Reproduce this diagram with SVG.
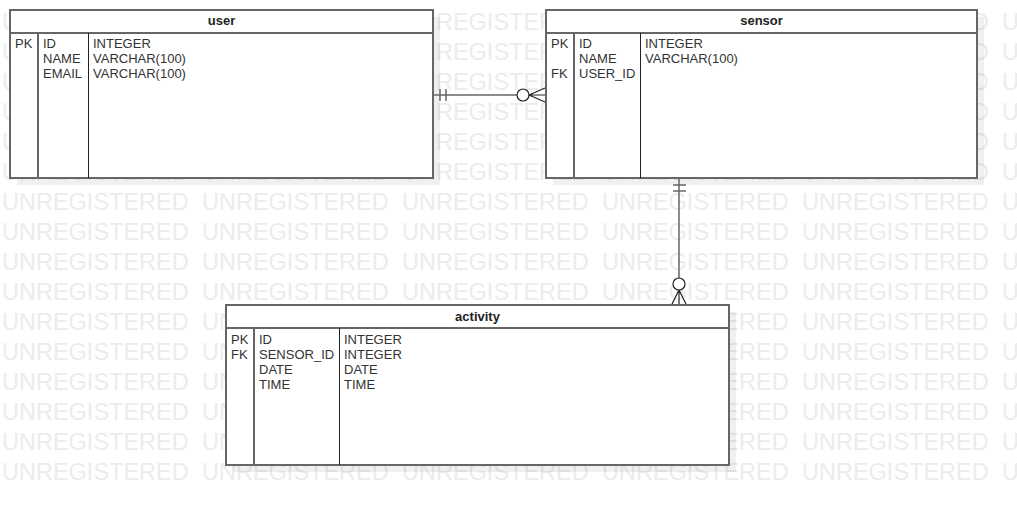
<svg xmlns="http://www.w3.org/2000/svg" xmlns:xlink="http://www.w3.org/1999/xlink" width="1017" height="506" viewBox="0 0 1017 506">
<style>
.wm{font-family:"Liberation Sans",Arial,sans-serif;font-size:23.5px;fill:#ececec}
.t{font-family:"Liberation Sans",Arial,sans-serif;font-size:13px;fill:#333}
.h{font-family:"Liberation Sans",Arial,sans-serif;font-size:13px;font-weight:bold;fill:#222;text-anchor:middle}
.box{fill:#fff;stroke:#666;stroke-width:2}
.shadow{fill:#000;fill-opacity:0.06}
.sep{stroke:#666;stroke-width:2}
.sep2{stroke:#222;stroke-width:1}
.c{fill:none;stroke:#666;stroke-width:1.5}
.ci{fill:#fff;stroke:#222;stroke-width:1.2}
.cf{fill:none;stroke:#222;stroke-width:1.2}
</style>
<defs>
<text id="wmrow" class="wm"><tspan x="2">UNREGISTERED</tspan><tspan x="202">UNREGISTERED</tspan><tspan x="402">UNREGISTERED</tspan><tspan x="602">UNREGISTERED</tspan><tspan x="802">UNREGISTERED</tspan><tspan x="1002">U</tspan></text>
</defs>
<rect width="1017" height="506" fill="#fff"/>
<g id="watermark">
<use xlink:href="#wmrow" y="30"/><use xlink:href="#wmrow" y="60"/><use xlink:href="#wmrow" y="90"/><use xlink:href="#wmrow" y="120"/>
<use xlink:href="#wmrow" y="150"/><use xlink:href="#wmrow" y="180"/><use xlink:href="#wmrow" y="210"/><use xlink:href="#wmrow" y="240"/>
<use xlink:href="#wmrow" y="270"/><use xlink:href="#wmrow" y="300"/><use xlink:href="#wmrow" y="330"/><use xlink:href="#wmrow" y="360"/>
<use xlink:href="#wmrow" y="390"/><use xlink:href="#wmrow" y="420"/><use xlink:href="#wmrow" y="450"/><use xlink:href="#wmrow" y="480"/>
</g>
<g id="user">
<rect class="shadow" x="17" y="17" width="423" height="168"/>
<rect class="box" x="10" y="10" width="423" height="168"/>
<line class="sep" x1="10" y1="33" x2="433" y2="33"/>
<line class="sep" x1="38" y1="33" x2="38" y2="178"/>
<line class="sep2" x1="88.5" y1="33" x2="88.5" y2="178"/>
<text class="h" x="221.5" y="25">user</text>
<text class="t" x="15" y="48">PK</text>
<text class="t" x="43" y="48">ID</text>
<text class="t" x="43" y="63">NAME</text>
<text class="t" x="43" y="78">EMAIL</text>
<text class="t" x="93" y="48">INTEGER</text>
<text class="t" x="93" y="63">VARCHAR(100)</text>
<text class="t" x="93" y="78">VARCHAR(100)</text>
</g>
<g id="sensor">
<rect class="shadow" x="553" y="17" width="431" height="168"/>
<rect class="box" x="546" y="10" width="431" height="168"/>
<line class="sep" x1="546" y1="33" x2="977" y2="33"/>
<line class="sep" x1="574" y1="33" x2="574" y2="178"/>
<line class="sep2" x1="640.5" y1="33" x2="640.5" y2="178"/>
<text class="h" x="761.5" y="25">sensor</text>
<text class="t" x="551" y="48">PK</text>
<text class="t" x="551" y="78">FK</text>
<text class="t" x="579" y="48">ID</text>
<text class="t" x="579" y="63">NAME</text>
<text class="t" x="579" y="78">USER_ID</text>
<text class="t" x="645" y="48">INTEGER</text>
<text class="t" x="645" y="63">VARCHAR(100)</text>
</g>
<g id="activity">
<rect class="shadow" x="233" y="312" width="503" height="160"/>
<rect class="box" x="226" y="305" width="503" height="160"/>
<line class="sep" x1="226" y1="328" x2="729" y2="328"/>
<line class="sep" x1="254" y1="328" x2="254" y2="465"/>
<line class="sep2" x1="339.5" y1="328" x2="339.5" y2="465"/>
<text class="h" x="477.5" y="321">activity</text>
<text class="t" x="231" y="344">PK</text>
<text class="t" x="231" y="359">FK</text>
<text class="t" x="259" y="344">ID</text>
<text class="t" x="259" y="359">SENSOR_ID</text>
<text class="t" x="259" y="374">DATE</text>
<text class="t" x="259" y="389">TIME</text>
<text class="t" x="344" y="344">INTEGER</text>
<text class="t" x="344" y="359">INTEGER</text>
<text class="t" x="344" y="374">DATE</text>
<text class="t" x="344" y="389">TIME</text>
</g>
<g id="connectors">
<g id="user-sensor">
<line class="c" x1="434" y1="95" x2="517" y2="95"/>
<line class="c" x1="440" y1="89" x2="440" y2="101"/>
<line class="c" x1="446" y1="89" x2="446" y2="101"/>
<circle class="ci" cx="523" cy="95" r="6"/>
<path class="cf" d="M529 95 L545 95 M529 95 L545 88 M529 95 L545 102"/>
</g>
<g id="sensor-activity">
<line class="c" x1="679" y1="179" x2="679" y2="278"/>
<line class="c" x1="673" y1="185" x2="686" y2="185"/>
<line class="c" x1="673" y1="191" x2="686" y2="191"/>
<circle class="ci" cx="679" cy="284" r="6"/>
<path class="cf" d="M679 290 L679 304 M679 290 L672 304 M679 290 L686 304"/>
</g>
</g>
</svg>
